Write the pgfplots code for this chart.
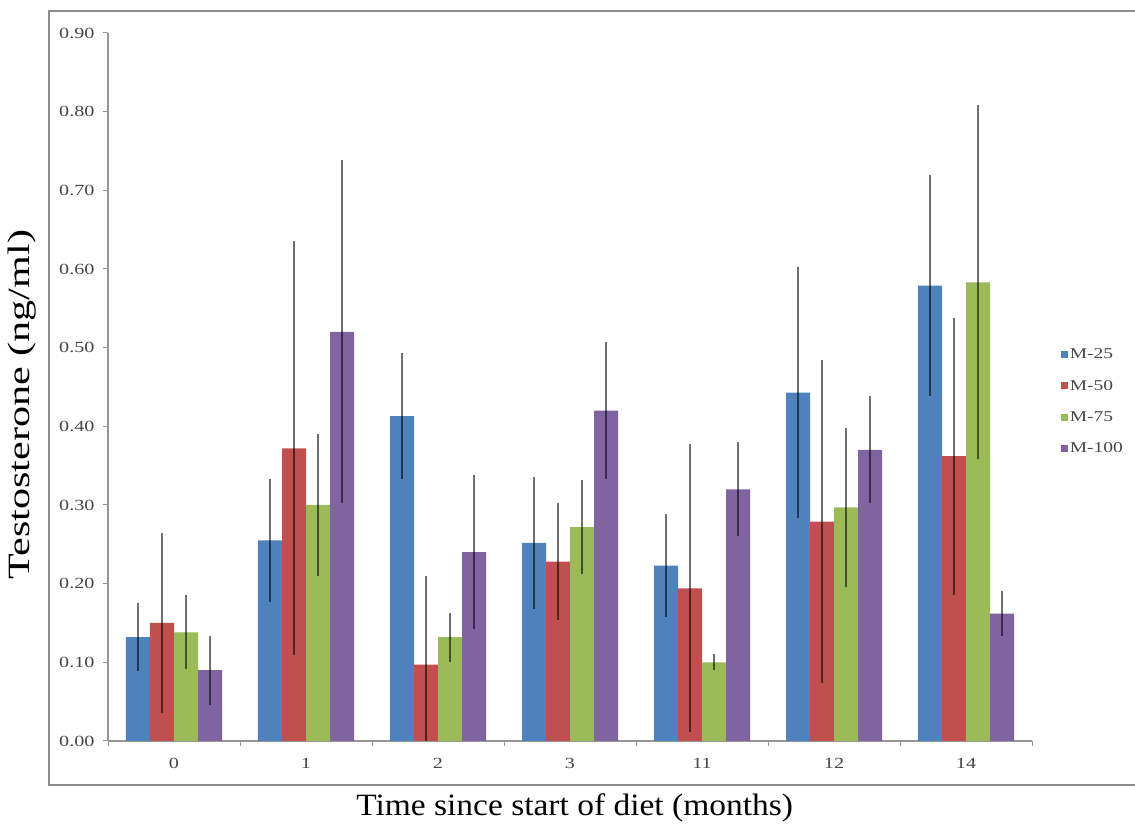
\documentclass[border=0pt]{standalone}
\usepackage{pgfplots}
\pgfplotsset{compat=1.18}
\usepackage{pgfplotstable}
\usepackage{graphicx}
\usepackage{fontspec}
\setmainfont{Liberation Serif}

\definecolor{cBlue}{RGB}{79,129,189}
\definecolor{cRed}{RGB}{192,80,77}
\definecolor{cGreen}{RGB}{155,187,89}
\definecolor{cPurple}{RGB}{128,100,162}
\definecolor{frameGray}{RGB}{140,140,140}
\definecolor{axisGray}{RGB}{150,150,150}
\definecolor{tickText}{RGB}{70,70,70}

% mean testosterone (ng/ml) and error per group; idx = position of the month category
\pgfplotstableread{
idx m25  e25   m50   e50   m75   e75   m100  e100
0   0.132 0.043 0.150 0.115 0.138 0.047 0.090 0.044
1   0.255 0.078 0.372 0.263 0.300 0.090 0.520 0.218
2   0.413 0.080 0.097 0.113 0.132 0.031 0.240 0.098
3   0.252 0.084 0.228 0.074 0.272 0.060 0.420 0.087
4   0.223 0.065 0.194 0.183 0.100 0.010 0.320 0.060
5   0.443 0.160 0.279 0.205 0.297 0.101 0.370 0.068
6   0.579 0.141 0.362 0.176 0.583 0.225 0.162 0.029
}\testo

\newcommand{\wide}[1]{\scalebox{1.3}[1]{#1}}

\begin{document}
\begin{tikzpicture}
\useasboundingbox (0,0) rectangle (1135bp,831bp);
\draw[frameGray, line width=2bp] (49bp,46bp) rectangle (1145bp,820bp);
\begin{axis}[
  at={(108bp,90bp)}, anchor=south west,
  scale only axis,
  width=924bp, height=708bp,
  xmin=-0.5, xmax=6.5,
  ymin=0, ymax=0.9,
  axis x line*=bottom, axis y line*=left,
  axis line style={axisGray, line width=1.2bp, -},
  ybar=0pt, bar width=24bp,
  xtick={0,1,2,3,4,5,6},
  major x tick style={draw=none},
  minor xtick={-0.5,0.5,1.5,2.5,3.5,4.5,5.5,6.5},
  minor tick length=5bp,
  minor x tick style={axisGray, line width=1bp},
  ytick={0,0.1,0.2,0.3,0.4,0.5,0.6,0.7,0.8,0.9},
  major tick length=5bp,
  tick align=outside,
  y tick style={axisGray, line width=1bp},
  yticklabel={\wide{\pgfmathprintnumber[fixed,fixed zerofill,precision=2]{\tick}}},
  /pgf/number format/assume math mode=true,
  ticklabel style={font=\fontsize{15.5bp}{17bp}\selectfont, text=tickText},
  yticklabel style={xshift=-5bp},
  xticklabel style={yshift=-9bp},
  xticklabels={\wide{0},\wide{1},\wide{2},\wide{3},\wide{11},\wide{12},\wide{14}},
  xlabel={\scalebox{1.08}[1]{Time since start of diet (months)}},
  ylabel={\scalebox{1.36}[1]{Testosterone (ng/ml)}},
  label style={font=\fontsize{31bp}{35bp}\selectfont, text=black},
  xlabel style={at={(axis description cs:0.505,-0.095)}, anchor=center},
  ylabel style={at={(axis description cs:-0.093,0.475)}, anchor=center},
  legend style={at={(axis description cs:1.031,0.557)}, anchor=north west,
    draw=none, fill=none, font=\fontsize{15bp}{17bp}\selectfont, text=tickText,
    row sep=16bp, inner sep=0pt},
  legend cell align=left,
  legend image code/.code={\fill[#1] (0bp,-3.5bp) rectangle (7bp,3.5bp);},
  error bars/y dir=both,
  error bars/y explicit,
  error bars/error mark=none,
  error bars/error bar style={black, opacity=0.55, line width=1.7bp},
]
\addplot[fill=cBlue, draw=none] table[x=idx, y=m25, y error=e25] {\testo};
\addplot[fill=cRed, draw=none] table[x=idx, y=m50, y error=e50] {\testo};
\addplot[fill=cGreen, draw=none] table[x=idx, y=m75, y error=e75] {\testo};
\addplot[fill=cPurple, draw=none] table[x=idx, y=m100, y error=e100] {\testo};
\legend{\wide{M-25},\wide{M-50},\wide{M-75},\wide{M-100}}
\end{axis}
\end{tikzpicture}
\end{document}
